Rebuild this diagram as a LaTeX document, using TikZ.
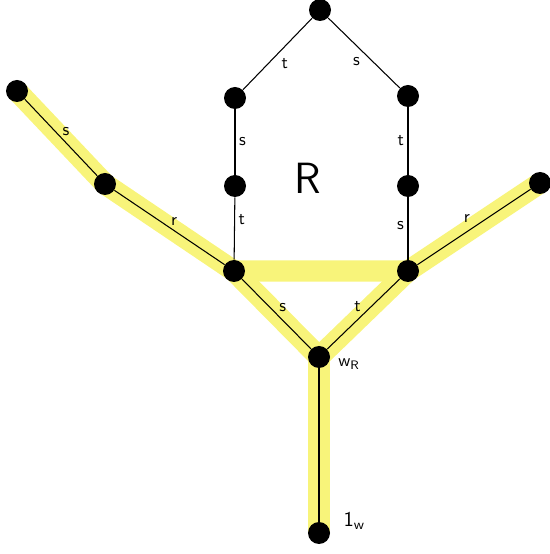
\documentclass[tikz,border=0pt]{standalone}
\usepackage{tikz}
\usetikzlibrary{positioning}
\definecolor{hlyellow}{RGB}{248,244,122}
\pgfdeclarelayer{background}
\pgfsetlayers{background,main}
\tikzset{
  vtx/.style={circle,fill=black,inner sep=0pt,minimum size=0.44cm},
  edgelbl/.style={font=\sffamily,inner sep=2pt},
  hlpath/.style={hlyellow,line width=12pt},
  stem/.style={black,line width=0.6pt}
}
\begin{document}
\begin{tikzpicture}
\useasboundingbox (0,0) rectangle (11,11.08);
% vertices
\node[vtx] (top) at (6.40,10.88) {};
\node[vtx] (ul) at (4.70,9.12) {};
\node[vtx] (ur) at (8.16,9.16) {};
\node[vtx] (lm) at (4.70,7.36) {};
\node[vtx] (rm) at (8.16,7.36) {};
\node[vtx] (lb) at (4.68,5.66) {};
\node[vtx] (rb) at (8.16,5.66) {};
\node[vtx] (wR) at (6.38,3.94) {};
\node[vtx] (one) at (6.38,0.42) {};
\node[vtx] (fl) at (0.34,9.26) {};
\node[vtx] (lmid) at (2.10,7.40) {};
\node[vtx] (rt) at (10.80,7.42) {};
% highlighted walk
\begin{pgfonlayer}{background}
\draw[hlpath] (fl.center) -- (lmid.center) -- (lb.center) -- (rb.center) -- (rt.center);
\draw[hlpath] (lb.center) -- (wR.center) -- (rb.center);
\draw[hlpath] (wR.center) -- (one.center);
\end{pgfonlayer}
% edges
\draw[stem] (fl) -- node[edgelbl,above right=-2pt] {s} (lmid);
\draw[stem] (lmid) -- node[edgelbl,above right=-2pt] {r} (lb);
\draw[stem] (top) -- node[edgelbl,below right] {t} (ul);
\draw[stem] (top) -- node[edgelbl,below left] {s} (ur);
\draw[stem] (ul) -- node[edgelbl,right] {s} (lm);
\draw[stem] (lm) -- node[edgelbl,right,pos=0.35] {t} (lb);
\draw[stem] (ur) -- node[edgelbl,left] {t} (rm);
\draw[stem] (rm) -- node[edgelbl,left,pos=0.45] {s} (rb);
\draw[stem] (lb) -- node[edgelbl,above right=-1pt] {s} (wR);
\draw[stem] (rb) -- node[edgelbl,above left=-1pt] {t} (wR);
\draw[stem] (rb) -- node[edgelbl,above left] {r} (rt);
\draw[stem] (wR) -- (one);
% labels
\node[font=\sffamily\Huge] (R) at (6.16,7.52) {R};
\node[font=\sffamily,right=1pt of wR,yshift=-4pt] (wRlbl) {w\textsubscript{R}};
\node[font=\sffamily\large,right=4pt of one,yshift=7pt] (onelbl) {1\textsubscript{w}};
\end{tikzpicture}
\end{document}
